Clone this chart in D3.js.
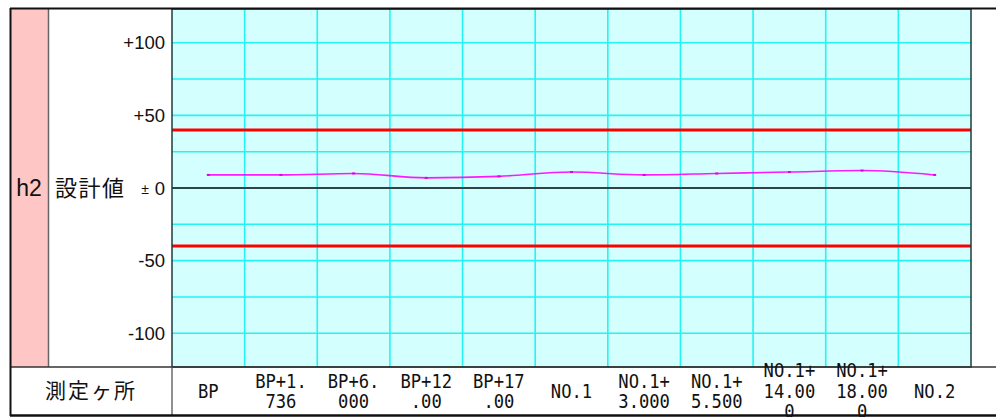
<!DOCTYPE html>
<html><head><meta charset="utf-8">
<script src="https://cdn.jsdelivr.net/npm/d3@7/dist/d3.min.js"></script>
<style>html,body{margin:0;padding:0;background:#fff;}svg{display:block;}</style>
</head><body>
<svg id="c" width="996" height="417"></svg>
<script>
const categories = ["BP","BP+1.736","BP+6.000","BP+12.00","BP+17.00","NO.1","NO.1+3.000","NO.1+5.500","NO.1+14.000","NO.1+18.000","NO.2"];
const values = [9, 9, 10, 7, 8, 11, 9, 10, 11, 12, 9];
const upperLimit = [40];
const lowerLimit = [-40];
const yTickValues = [100, 50, 0, -50, -100];
const yTickLabels = ["+100", "+50", "0", "-50", "-100"];
const gridValues = [100, 75, 50, 25, -25, -50, -75, -100];
const rowTitle = "h2";
const designLabel = "設計値";
const xTitle = "測定ヶ所";

const svg = d3.select("#c");
const L = 172, R = 971, T = 9, B = 367, BOT = 415;

const x = d3.scaleBand().domain(categories).range([L, R]).paddingInner(0).paddingOuter(0);
const y = d3.scaleLinear().domain([-123.2, 123.2]).range([B, T]);

// pink column
svg.append("rect").attr("x", 11).attr("y", T).attr("width", 37).attr("height", B - T).attr("fill", "#ffc6c6");
svg.append("line").attr("x1", 48.5).attr("x2", 48.5).attr("y1", T).attr("y2", B).attr("stroke", "#666").attr("stroke-width", 1.5);

// plot background
svg.append("rect").attr("x", L).attr("y", T).attr("width", R - L).attr("height", B - T).attr("fill", "#d4ffff");

// horizontal gridlines
svg.append("g").selectAll("line").data(gridValues).join("line")
  .attr("x1", L).attr("x2", R).attr("y1", d => y(d)).attr("y2", d => y(d))
  .attr("stroke", "#22f4f4").attr("stroke-width", 1.6);
// vertical gridlines
svg.append("g").selectAll("line").data(categories.slice(1)).join("line")
  .attr("x1", d => x(d)).attr("x2", d => x(d)).attr("y1", T).attr("y2", B)
  .attr("stroke", "#22f4f4").attr("stroke-width", 1.6);

// zero line
svg.append("line").attr("x1", L).attr("x2", R).attr("y1", y(0)).attr("y2", y(0))
  .attr("stroke", "#2f4545").attr("stroke-width", 2);

// limit lines
svg.append("g").selectAll("line").data(upperLimit.concat(lowerLimit)).join("line")
  .attr("x1", L).attr("x2", R).attr("y1", d => y(d)).attr("y2", d => y(d))
  .attr("stroke", "#ff0000").attr("stroke-width", 3);

// data line
const cx = d => x(d) + x.bandwidth() / 2;
const line = d3.line().x((d, i) => cx(categories[i])).y(d => y(d)).curve(d3.curveMonotoneX);
svg.append("path").datum(values).attr("d", line).attr("fill", "none")
  .attr("stroke", "#ff00ff").attr("stroke-width", 1.6).attr("stroke-opacity", 0.9);
svg.append("g").selectAll("rect").data(values).join("rect")
  .attr("x", (d, i) => cx(categories[i]) - 1.5).attr("y", d => y(d) - 1)
  .attr("width", 3).attr("height", 2).attr("fill", "#e000e0");

// plot border
svg.append("rect").attr("x", L).attr("y", T).attr("width", R - L).attr("height", B - T)
  .attr("fill", "none").attr("stroke", "#1e3c3c").attr("stroke-width", 1.5);

// y tick labels
const yt = svg.append("g").attr("font-family", "'Liberation Sans', Arial, sans-serif").attr("fill", "#111");
yTickValues.forEach((v, i) => {
  yt.append("text").attr("x", 165).attr("y", y(v) + 6.5).attr("text-anchor", "end").attr("font-size", 18.5).text(yTickLabels[i]);
  if (v === 0) {
    yt.append("text").attr("x", 149).attr("y", y(v) + 5.5).attr("text-anchor", "end").attr("font-size", 14).text("±");
  }
});

// row titles
svg.append("text").attr("x", 29).attr("y", y(0) + 8).attr("text-anchor", "middle")
  .attr("font-family", "'Liberation Sans', Arial, sans-serif").attr("font-size", 23).attr("fill", "#111").text(rowTitle);
svg.append("text").attr("x", 55).attr("y", y(0) + 8)
  .attr("font-family", "'Noto Sans CJK JP', sans-serif").attr("font-size", 22).attr("letter-spacing", 1.5).attr("fill", "#111").text(designLabel);

// bottom row lines
svg.append("line").attr("x1", 10).attr("x2", 996).attr("y1", B).attr("y2", B).attr("stroke", "#333").attr("stroke-width", 1.5);
svg.append("line").attr("x1", L).attr("x2", L).attr("y1", B).attr("y2", BOT).attr("stroke", "#555").attr("stroke-width", 1.3);

svg.append("text").attr("x", 91).attr("y", 398).attr("text-anchor", "middle")
  .attr("font-family", "'Noto Sans CJK JP', sans-serif").attr("font-size", 21).attr("letter-spacing", 2).attr("fill", "#111").text(xTitle);

// x labels (wrapped at 5 characters)
const lh = 20.5;
const xl = svg.append("g").attr("font-family", "'DejaVu Sans Mono', 'Liberation Mono', monospace").attr("font-size", 19.5).attr("fill", "#111");
categories.forEach(c => {
  const parts = c.match(/.{1,5}/g);
  const n = parts.length;
  const t = xl.append("text").attr("text-anchor", "middle")
    .attr("transform", `translate(${cx(c)},0) scale(0.88,1)`);
  parts.forEach((p, j) => {
    t.append("tspan").attr("x", 0).attr("y", 391 + (j - (n - 1) / 2) * lh + 7).text(p);
  });
});

// outer frame
svg.append("line").attr("x1", 10).attr("x2", 996).attr("y1", 8.5).attr("y2", 8.5).attr("stroke", "#111").attr("stroke-width", 2);
svg.append("line").attr("x1", 10.5).attr("x2", 10.5).attr("y1", 8).attr("y2", 416).attr("stroke", "#111").attr("stroke-width", 2);
svg.append("line").attr("x1", 10).attr("x2", 996).attr("y1", 415.5).attr("y2", 415.5).attr("stroke", "#111").attr("stroke-width", 2.5);
</script>
</body></html>
